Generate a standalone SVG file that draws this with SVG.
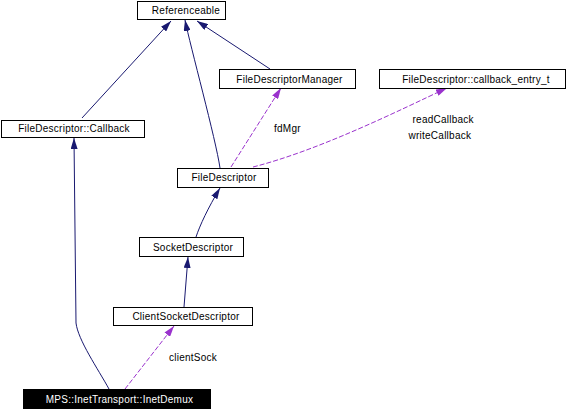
<svg xmlns="http://www.w3.org/2000/svg" width="568" height="410" viewBox="0 0 568 410">
<style>
text{font-family:"Liberation Sans",Arial,sans-serif;font-size:10px;letter-spacing:0.25px;fill:#000}
.node rect{fill:#fff;stroke:#000;stroke-width:1}
.node text{text-anchor:middle}
.inh{fill:none;stroke:#191970;stroke-width:1}
.use{fill:none;stroke:#9a32cd;stroke-width:1;stroke-dasharray:5,2}
</style>
<defs>
<marker id="an" viewBox="0 0 11 7" refX="11" refY="3.5" markerWidth="11" markerHeight="7" markerUnits="userSpaceOnUse" orient="auto"><path d="M0,0 L11,3.5 L0,7 z" fill="#191970"/></marker>
<marker id="ap" viewBox="0 0 11 7" refX="11" refY="3.5" markerWidth="11" markerHeight="7" markerUnits="userSpaceOnUse" orient="auto"><path d="M0,0 L11,3.5 L0,7 z" fill="#9a32cd"/></marker>
</defs>
<rect width="568" height="410" fill="#fff"/>
<g id="connectors">
<path class="inh" d="M82,118 L171,21" marker-end="url(#an)"/>
<path class="inh" d="M220,168 C216,140 190,45 185,20" marker-end="url(#an)"/>
<path class="inh" d="M270,69 L197,21" marker-end="url(#an)"/>
<path class="use" d="M231,167 L281,88" marker-end="url(#ap)"/>
<path class="use" d="M253,167 C320,150 400,110 447,88" marker-end="url(#ap)"/>
<path class="inh" d="M196,237 C200,225 208,208 220,188" marker-end="url(#an)"/>
<path class="inh" d="M184,307 L188,257" marker-end="url(#an)"/>
<path class="use" d="M125,389 L174,326" marker-end="url(#ap)"/>
<path class="inh" d="M109,389 C98,369 78,340 76,323 L74,138" marker-end="url(#an)"/>
<text x="274" y="131.5">fdMgr</text>
<text x="412.5" y="123.3">readCallback</text>
<text x="408.5" y="139">writeCallback</text>
<text x="169" y="361">clientSock</text>
</g>
<g id="Referenceable" class="node"><rect x="137.5" y="1.5" width="88" height="18"/><text x="186" y="14">Referenceable</text></g>
<g id="FileDescriptorCallback" class="node"><rect x="1.5" y="120.5" width="143" height="17"/><text x="74" y="131.5">FileDescriptor::Callback</text></g>
<g id="FileDescriptorManager" class="node"><rect x="219.5" y="69.5" width="136" height="19"/><text x="289.5" y="82.5">FileDescriptorManager</text></g>
<g id="callback_entry_t" class="node"><rect x="379.5" y="69.5" width="186" height="19"/><text x="476" y="82.5">FileDescriptor::callback_entry_t</text></g>
<g id="FileDescriptor" class="node"><rect x="177.5" y="168.5" width="91" height="19"/><text x="224" y="181.2">FileDescriptor</text></g>
<g id="SocketDescriptor" class="node"><rect x="139.5" y="237.5" width="104" height="19"/><text x="193" y="250.5">SocketDescriptor</text></g>
<g id="ClientSocketDescriptor" class="node"><rect x="113.5" y="307.5" width="139" height="18"/><text x="186" y="320">ClientSocketDescriptor</text></g>
<g id="InetDemux" class="node"><rect x="23.5" y="389.5" width="187" height="19" style="fill:#000"/><text x="119.5" y="402.5" style="fill:#fff">MPS::InetTransport::InetDemux</text></g>
</svg>
